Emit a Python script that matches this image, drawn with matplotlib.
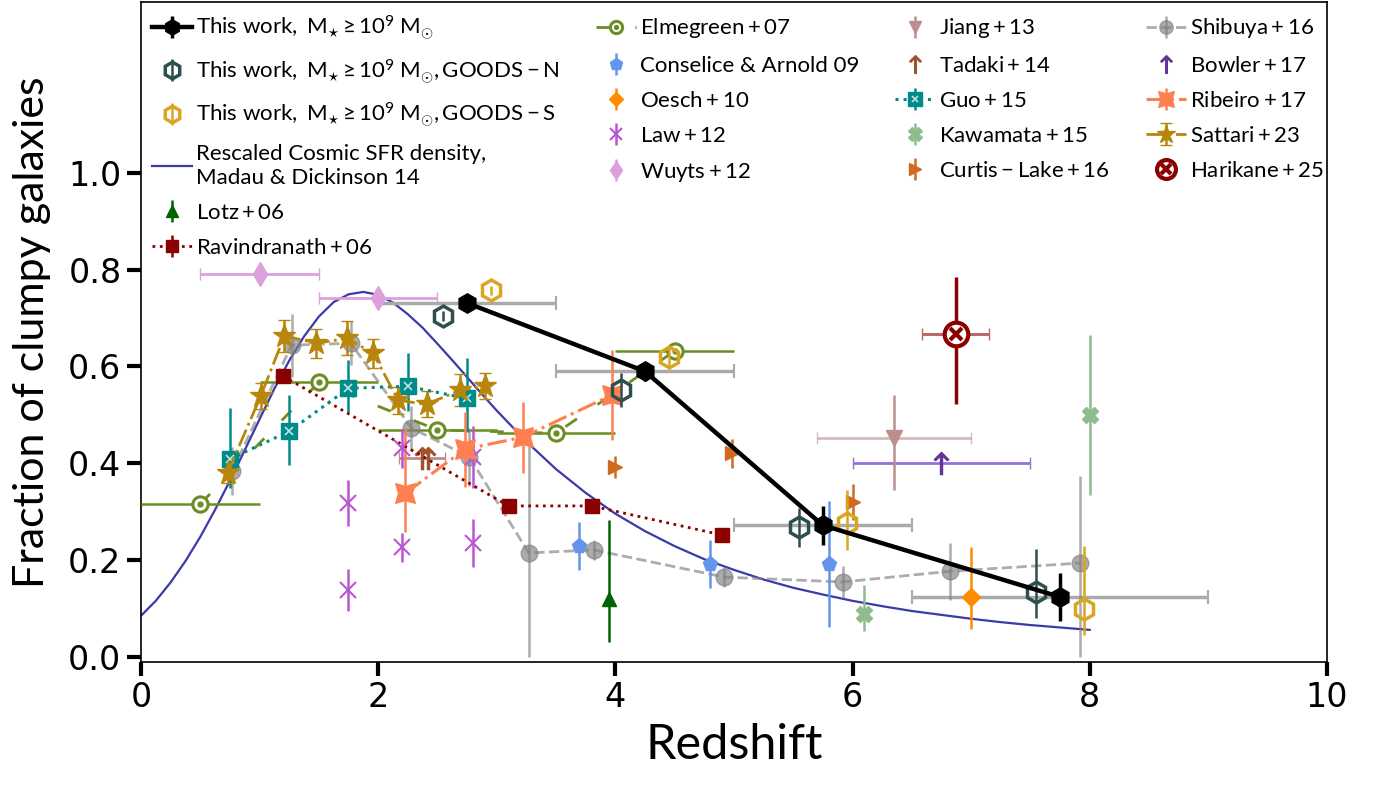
import matplotlib
matplotlib.use('Agg')
import matplotlib.pyplot as plt

plt.rcParams['mathtext.fontset'] = 'custom'
plt.rcParams['mathtext.rm'] = 'Lato'
plt.rcParams['mathtext.it'] = 'Lato:italic'
plt.rcParams['mathtext.bf'] = 'Lato:bold'

# ---------------- data ----------------
# This work
tw_z = [2.75, 4.25, 5.75, 7.75]
tw_f = [0.731, 0.590, 0.272, 0.124]
tw_ferr = [0.012, 0.02, 0.04, 0.05]
tw_zerr = [0.75, 0.75, 0.75, 1.25]
# GOODS-N
gn_z = [2.55, 4.05, 5.55, 7.55]
gn_f = [0.704, 0.551, 0.268, 0.134]
gn_elo = [0.01, 0.035, 0.04, 0.054]
gn_ehi = [0.01, 0.035, 0.04, 0.09]
# GOODS-S
gs_z = [2.95, 4.45, 5.95, 7.95]
gs_f = [0.757, 0.620, 0.277, 0.099]
gs_elo = [0.01, 0.025, 0.055, 0.054]
gs_ehi = [0.01, 0.025, 0.068, 0.13]
# Rescaled cosmic SFR density (Madau & Dickinson 14)
md_z = [0.0, 0.125, 0.25, 0.375, 0.5, 0.625, 0.75, 0.875, 1.0, 1.125, 1.25, 1.375,
        1.5, 1.625, 1.75, 1.875, 2.0, 2.125, 2.25, 2.375, 2.5, 2.625, 2.75, 2.875,
        3.0, 3.25, 3.5, 3.75, 4.0, 4.25, 4.5, 4.75, 5.0, 5.25, 5.5, 5.75, 6.0,
        6.25, 6.5, 6.75, 7.0, 7.25, 7.5, 7.75, 8.0]
md_f = [0.085, 0.116, 0.154, 0.198, 0.248, 0.304, 0.364, 0.427, 0.491, 0.554,
        0.612, 0.662, 0.703, 0.733, 0.749, 0.754, 0.748, 0.732, 0.708, 0.680,
        0.647, 0.613, 0.578, 0.543, 0.509, 0.445, 0.388, 0.339, 0.296, 0.260,
        0.229, 0.202, 0.180, 0.160, 0.143, 0.129, 0.116, 0.105, 0.095, 0.087,
        0.079, 0.072, 0.066, 0.061, 0.056]
# Lotz+06
lotz_z = [3.95]
lotz_f = [0.120]
lotz_elo = [0.089]
lotz_ehi = [0.163]
# Ravindranath+06
rav_z = [1.2, 3.1, 3.8, 4.9]
rav_f = [0.580, 0.312, 0.312, 0.252]
rav_ferr = [0.015, 0.015, 0.015, 0.015]
# Elmegreen+07
elm_z = [0.5, 1.5, 2.5, 3.5, 4.5]
elm_f = [0.316, 0.567, 0.469, 0.462, 0.632]
elm_zerr = [0.5, 0.5, 0.5, 0.5, 0.5]
# Conselice & Arnold 09
con_z = [3.69, 4.8, 5.8]
con_f = [0.229, 0.192, 0.192]
con_ferr = [0.05, 0.05, 0.13]
# Oesch+10
oes_z = [7.0]
oes_f = [0.124]
oes_elo = [0.066]
oes_ehi = [0.103]
# Law+12
law_z = [1.75, 1.75, 2.2, 2.2, 2.8, 2.8]
law_f = [0.318, 0.138, 0.431, 0.227, 0.413, 0.235]
law_ferr = [0.047, 0.043, 0.04, 0.03, 0.065, 0.05]
# Wuyts+12
wuy_z = [1.0, 2.0]
wuy_f = [0.791, 0.741]
wuy_ferr = [0.01, 0.01]
wuy_zerr = [0.5, 0.5]
# Jiang+13
jia_z = [6.35]
jia_f = [0.452]
jia_elo = [0.107]
jia_ehi = [0.089]
jia_zerr = [0.65]
# Tadaki+14
tad_z = [2.37, 2.42]
tad_f = [0.41, 0.41]
tad_zerr = [0.19, 0.0]
# Guo+15
guo_z = [0.75, 1.25, 1.75, 2.25, 2.75]
guo_f = [0.409, 0.466, 0.555, 0.559, 0.534]
guo_elo = [0.06, 0.07, 0.05, 0.05, 0.07]
guo_ehi = [0.105, 0.075, 0.058, 0.068, 0.083]
# Kawamata+15
kaw_z = [6.1, 8.0]
kaw_f = [0.089, 0.500]
kaw_elo = [0.035, 0.165]
kaw_ehi = [0.06, 0.165]
# Curtis-Lake+16
cur_z = [4.0, 4.98, 6.0]
cur_f = [0.392, 0.421, 0.320]
cur_ferr = [0.023, 0.03, 0.038]
# Shibuya+16
shi_z = [0.77, 1.27, 1.77, 2.28, 2.77, 3.27, 3.82, 4.92, 5.92, 6.82, 7.92]
shi_f = [0.384, 0.644, 0.648, 0.473, 0.413, 0.215, 0.221, 0.165, 0.155, 0.177, 0.194]
shi_elo = [0.05, 0.065, 0.045, 0.045, 0.06, 0.215, 0.02, 0.02, 0.033, 0.059, 0.194]
shi_ehi = [0.05, 0.065, 0.045, 0.045, 0.06, 0.222, 0.02, 0.02, 0.033, 0.059, 0.18]
# Bowler+17
bow_z = [6.75]
bow_f = [0.40]
bow_zerr = [0.75]
# Ribeiro+17
rib_z = [2.23, 2.73, 3.22, 3.97]
rib_f = [0.338, 0.429, 0.454, 0.541]
rib_elo = [0.08, 0.078, 0.073, 0.093]
rib_ehi = [0.135, 0.077, 0.073, 0.093]
# Sattari+23
sat_z = [0.73, 1.01, 1.21, 1.48, 1.74, 1.96, 2.17, 2.41, 2.69, 2.9]
sat_f = [0.380, 0.539, 0.663, 0.648, 0.658, 0.627, 0.530, 0.522, 0.551, 0.559]
sat_ferr = [0.02, 0.027, 0.033, 0.03, 0.035, 0.03, 0.028, 0.027, 0.033, 0.027]
# Harikane+25
har_z = [6.87]
har_f = [0.667]
har_elo = [0.145]
har_ehi = [0.117]
har_zerr = [0.28]

# ---------------- figure ----------------
fig = plt.figure(figsize=(13.75, 7.85), dpi=100)
ax = fig.add_axes([0.1025, 0.1567, 0.8625, 0.8403])

EL = 1.8

md_line, = ax.plot(md_z, md_f, color='#3a3aa8', lw=1.6, zorder=2)

lotz = ax.errorbar(lotz_z, lotz_f, yerr=[lotz_elo, lotz_ehi], fmt='^', color='darkgreen',
                   ms=10, elinewidth=EL, zorder=4)

rav = ax.errorbar(rav_z, rav_f, yerr=rav_ferr, fmt='s', ls=':', lw=2, color='darkred',
                  ms=10, elinewidth=EL, zorder=4)

ax.errorbar(elm_z, elm_f, xerr=elm_zerr, fmt='none', ecolor='olivedrab', elinewidth=1.8, zorder=3)
elm, = ax.plot(elm_z, elm_f, ls=(0, (5, 9)), lw=2, color='olivedrab', marker='o', ms=11,
               mfc='white', mec='olivedrab', mew=2.2, zorder=4)
elm_dot, = ax.plot(elm_z, elm_f, ls='none', marker='o', ms=3.5, color='olivedrab', zorder=4.1)

con = ax.errorbar(con_z, con_f, yerr=con_ferr, fmt='p', color='cornflowerblue', ms=11,
                  elinewidth=EL, zorder=4)

oes = ax.errorbar(oes_z, oes_f, yerr=[oes_elo, oes_ehi], fmt='D', color='darkorange', ms=9,
                  elinewidth=EL, zorder=4)

law = ax.errorbar(law_z, law_f, yerr=law_ferr, fmt='x', color='mediumorchid', ms=11, mew=1.5,
                  elinewidth=EL, zorder=4)

ax.errorbar(wuy_z, wuy_f, xerr=wuy_zerr, fmt='none', ecolor='plum', elinewidth=2, capsize=4,
            zorder=3)
wuy = ax.errorbar(wuy_z, wuy_f, yerr=wuy_ferr, fmt='d', color='plum', ms=12, elinewidth=EL,
                  zorder=4)

ax.errorbar(jia_z, jia_f, xerr=jia_zerr, fmt='none', ecolor='rosybrown', alpha=0.6,
            elinewidth=2, capsize=4, zorder=3)
jia = ax.errorbar(jia_z, jia_f, yerr=[jia_elo, jia_ehi], fmt='v', color='rosybrown', ms=11,
                  elinewidth=EL, zorder=4)

ax.errorbar(tad_z[:1], tad_f[:1], xerr=tad_zerr[:1], fmt='none', ecolor='rosybrown',
            elinewidth=2, capsize=4, zorder=3)
tad, = ax.plot(tad_z, tad_f, ls='none', marker='$\\uparrow$', color='sienna', ms=16, zorder=4)

guo = ax.errorbar(guo_z, guo_f, yerr=[guo_elo, guo_ehi], fmt='s', ls=':', lw=2.2,
                  color='darkcyan', ms=12, elinewidth=EL, zorder=4)
guo_x, = ax.plot(guo_z, guo_f, ls='none', marker='x', ms=6, mew=1.2, color='#bfe3e3',
                 zorder=4.1)

kaw = ax.errorbar(kaw_z, kaw_f, yerr=[kaw_elo, kaw_ehi], fmt='X', color='darkseagreen', ms=12,
                  elinewidth=EL, zorder=4)

cur = ax.errorbar(cur_z, cur_f, yerr=cur_ferr, fmt='>', color='chocolate', ms=10,
                  elinewidth=EL, zorder=4)

shi = ax.errorbar(shi_z, shi_f, yerr=[shi_elo, shi_ehi], fmt='o', ls='--', lw=2,
                  color='grey', alpha=0.65, ms=12, elinewidth=EL, zorder=3.5)

ax.errorbar(bow_z, bow_f, xerr=bow_zerr, fmt='none', ecolor='mediumpurple', elinewidth=2,
            capsize=4, zorder=3)
bow, = ax.plot(bow_z, bow_f, ls='none', marker='$\\uparrow$', color='rebeccapurple', ms=16,
               zorder=4)

rib = ax.errorbar(rib_z, rib_f, yerr=[rib_elo, rib_ehi], fmt='-.', marker=(4, 1, 45), lw=2.2,
                  color='coral', ms=20, elinewidth=EL, zorder=4)

sat = ax.errorbar(sat_z, sat_f, yerr=sat_ferr, fmt='*', ls='-.', lw=2, color='darkgoldenrod',
                  ms=17, elinewidth=EL, capsize=4, zorder=4)

ax.errorbar(har_z, har_f, xerr=har_zerr, fmt='none', ecolor='#b86a6a', elinewidth=2.2,
            capsize=4, zorder=3)
har = ax.errorbar(har_z, har_f, yerr=[har_elo, har_ehi], fmt='o', color='darkred', ms=17,
                  mfc='white', mew=3, elinewidth=2.5, zorder=4)
har_x, = ax.plot(har_z, har_f, ls='none', marker='x', ms=9, mew=3, color='darkred', zorder=4.1)

gn = ax.errorbar(gn_z, gn_f, yerr=[gn_elo, gn_ehi], fmt='h', color='#2f4f4f', ms=15,
                 mfc='none', mew=2.5, elinewidth=EL, zorder=5)
gs = ax.errorbar(gs_z, gs_f, yerr=[gs_elo, gs_ehi], fmt='h', color='goldenrod', ms=15,
                 mfc='none', mew=2.5, elinewidth=EL, zorder=5)

ax.errorbar(tw_z, tw_f, xerr=tw_zerr, fmt='none', ecolor='#aaaaaa', elinewidth=2.5,
            capsize=5, capthick=1.5, zorder=3)
tw = ax.errorbar(tw_z, tw_f, yerr=tw_ferr, fmt='h', ls='-', lw=3.2, color='black', ms=14,
                 elinewidth=2.5, zorder=6)

# ---------------- axes ----------------
ax.set_xlim(0, 10)
ax.set_ylim(-0.0103, 1.352)
ax.set_xticks([0, 2, 4, 6, 8, 10])
ax.set_yticks([0.0, 0.2, 0.4, 0.6, 0.8, 1.0])
ax.set_yticklabels(['0.0', '0.2', '0.4', '0.6', '0.8', '1.0'])
ax.tick_params(direction='out', length=10, width=3, labelsize=24, pad=4)
for s in ax.spines.values():
    s.set_linewidth(1.2)
ax.set_xlabel('Redshift', fontsize=35, family='Lato', labelpad=6)
ax.set_ylabel('Fraction of clumpy galaxies', fontsize=31, family='Lato', labelpad=12)

handles = [tw, gn, gs, md_line, lotz, rav, (elm, elm_dot), con, oes, law, wuy, jia, tad,
           (guo, guo_x), kaw, cur, shi, bow, rib, sat, (har, har_x)]
labels = [r'$\mathrm{This\ work,\ M_{\star} \geq 10^{9}\ M_{\odot}}$',
          r'$\mathrm{This\ work,\ M_{\star} \geq 10^{9}\ M_{\odot}, GOODS-N}$',
          r'$\mathrm{This\ work,\ M_{\star} \geq 10^{9}\ M_{\odot}, GOODS-S}$',
          'Rescaled Cosmic SFR density,\nMadau & Dickinson 14',
          r'$\mathrm{Lotz+06}$',
          r'$\mathrm{Ravindranath+06}$',
          r'$\mathrm{Elmegreen+07}$',
          'Conselice & Arnold 09',
          r'$\mathrm{Oesch+10}$',
          r'$\mathrm{Law+12}$',
          r'$\mathrm{Wuyts+12}$',
          r'$\mathrm{Jiang+13}$',
          r'$\mathrm{Tadaki+14}$',
          r'$\mathrm{Guo+15}$',
          r'$\mathrm{Kawamata+15}$',
          r'$\mathrm{Curtis-Lake+16}$',
          r'$\mathrm{Shibuya+16}$',
          r'$\mathrm{Bowler+17}$',
          r'$\mathrm{Ribeiro+17}$',
          r'$\mathrm{Sattari+23}$',
          r'$\mathrm{Harikane+25}$']
leg = ax.legend(handles, labels, ncol=4, loc='upper left', bbox_to_anchor=(0.0, 1.0),
                frameon=False, prop={'family': 'Lato', 'size': 16}, handlelength=1.8,
                handletextpad=0.2, columnspacing=1.6, labelspacing=0.68, borderaxespad=0.2,
                borderpad=0.3, markerscale=0.8)

fig.savefig('out.png', dpi=100)
